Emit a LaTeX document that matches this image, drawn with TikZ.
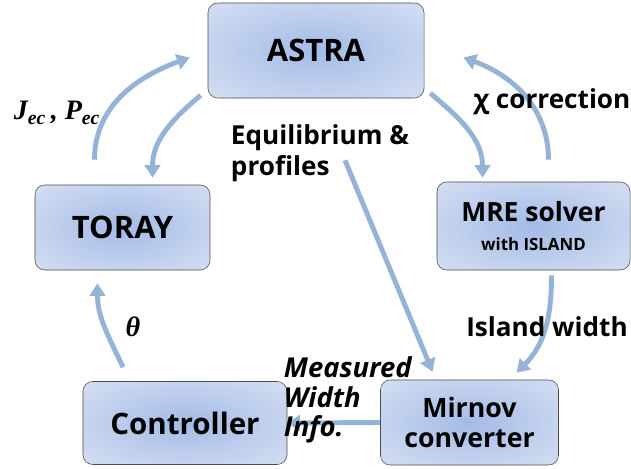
\documentclass[tikz,border=0pt]{standalone}
\usepackage{fontspec}
\setmainfont{Open Sans}
\newfontfamily\mathserif{Liberation Serif}
\usetikzlibrary{arrows.meta,calc}
\definecolor{boxin}{HTML}{A4BBE6}
\definecolor{boxout}{HTML}{E3E9F6}
\definecolor{flowblue}{HTML}{95B3D7}
\pgfdeclareradialshading{boxshade}{\pgfpoint{0bp}{0bp}}{color(0bp)=(boxin); color(46bp)=(boxout); color(50bp)=(boxout)}
\begin{document}
\begin{tikzpicture}[x=0.025cm, y=0.025cm,
    box/.style={draw=black!70, rounded corners=7pt, shading=boxshade,
      align=center, font=\bfseries\fontsize{22}{26}\selectfont},
    flow/.style={draw=flowblue, line width=3.5pt, -{Triangle[length=9pt,width=11pt]}},
    lbl/.style={font=\bfseries\fontsize{18.6}{21.5}\selectfont, align=left},
    sym/.style={font=\mathserif\bfseries\itshape\fontsize{20}{22}\selectfont}]
    \useasboundingbox (0,0) rectangle (631,468);

    \node[box, minimum width=5.4cm, minimum height=2.375cm] (astra) at (316,417.5) {ASTRA};
    \node[box, minimum width=4.375cm, minimum height=2.125cm] (toray) at (122.5,240.5) {TORAY};
    \node[box, minimum width=4.825cm, minimum height=2.2cm, font=\bfseries\fontsize{18.8}{21}\selectfont]
    (mre) at (533.5,242) {MRE solver\\{\fontsize{12}{13}\selectfont with ISLAND}};
    \node[box, minimum width=5.1cm, minimum height=2.075cm, font=\bfseries\fontsize{21}{25}\selectfont]
    (ctrl) at (185,45) {Controller};
    \node[box, minimum width=4.45cm, minimum height=2.125cm, font=\bfseries\fontsize{19}{21.3}\selectfont]
    (mirnov) at (469.5,45.5) {Mirnov\\converter};

    \draw[flow] ($(astra.south west)+(-7,3)$) to[out=220,in=90] ($(toray.north)+(30,7)$);
    \draw[flow] ($(toray.north)+(-28,25)$) to[out=90,in=200] ($(astra.west)+(-18,-7)$);
    \draw[flow] ($(astra.south east)+(6,5)$) to[out=-40,in=90] ($(mre.north)+(-51,4)$);
    \draw[flow] ($(mre.north)+(15,22)$) to[out=90,in=-20] ($(astra.east)+(39,-7)$);
    \draw[flow] ($(astra.south)+(29,-62)$) -- ($(mirnov.north)+(-37,8)$);
    \draw[flow] ($(mre.south)+(18,-5)$) to[out=-90,in=45] ($(mirnov.north)+(47,7)$);
    \draw[flow] (mirnov.west) -- (ctrl.east);
    \draw[flow] ($(ctrl.north)+(-62,14)$) to[out=115,in=-90] ($(toray.south)+(-25,-13)$);

    \node[lbl, anchor=north west] (eq) at (226,348) {Equilibrium \&\\profiles};
    \node[lbl] (chi) at (552,366) {χ correction};
    \node[lbl] (isl) at (547,141) {Island width};
    \node[lbl, font=\bfseries\itshape\fontsize{19.5}{20.8}\selectfont, anchor=north west]
    (meas) at (279,116) {Measured\\Width\\Info.};
    \node[sym] (jp) at (57,355) {J\textsubscript{ec}\,, P\textsubscript{ec}};
    \node[sym] (th) at (133,141) {θ};
\end{tikzpicture}
\end{document}
